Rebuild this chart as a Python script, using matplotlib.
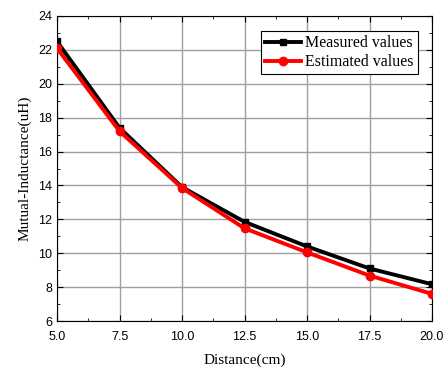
import numpy as np
import matplotlib
matplotlib.use('Agg')
import matplotlib.pyplot as plt
from matplotlib.ticker import MultipleLocator

distance = [5.0, 7.5, 10.0, 12.5, 15.0, 17.5, 20.0]
measured = [22.5, 17.4, 13.9, 11.85, 10.4, 9.1, 8.17]
estimated = [22.1, 17.2, 13.85, 11.47, 10.05, 8.68, 7.6]

fig = plt.figure(figsize=(4.48, 3.71), dpi=100)
ax = fig.add_axes([57 / 448, 1 - 321 / 371, (432 - 57) / 448, (321 - 16) / 371])

ax.plot(distance, measured, color='black', lw=2.8, marker='s', ms=5, label='Measured values', zorder=3)
ax.plot(distance, estimated, color='red', lw=2.8, marker='o', ms=6, label='Estimated values', zorder=3)

ax.set_xlim(5, 20)
ax.set_ylim(6, 24)
ax.xaxis.set_major_locator(MultipleLocator(2.5))
ax.xaxis.set_minor_locator(MultipleLocator(1.25))
ax.yaxis.set_major_locator(MultipleLocator(2))
ax.yaxis.set_minor_locator(MultipleLocator(1))
ax.set_xticklabels([f'{v:.1f}' for v in ax.get_xticks()])
ax.grid(True, which='major', color='#a0a0a0', lw=1.0)
ax.set_axisbelow(True)

ax.tick_params(which='both', direction='in', top=True, right=True, labelsize=9)
ax.tick_params(which='major', length=4)
ax.tick_params(which='minor', length=2.5)
ax.tick_params(axis='x', which='major', pad=7)
for lab in ax.get_xticklabels() + ax.get_yticklabels():
    lab.set_family('Liberation Sans')

ax.set_xlabel('Distance(cm)', family='Liberation Serif', fontsize=11, labelpad=8)
ax.set_ylabel('Mutual-Inductance(uH)', family='Liberation Serif', fontsize=11, labelpad=5)

leg = ax.legend(loc='upper right', bbox_to_anchor=(0.962, 0.95), borderaxespad=0, fancybox=False,
                edgecolor='black', framealpha=1, prop={'family': 'Liberation Serif', 'size': 11.5},
                handlelength=2.3, borderpad=0.25, labelspacing=0.2, handletextpad=0.25)
leg.get_frame().set_linewidth(0.8)

fig.savefig('out.png', dpi=100)
